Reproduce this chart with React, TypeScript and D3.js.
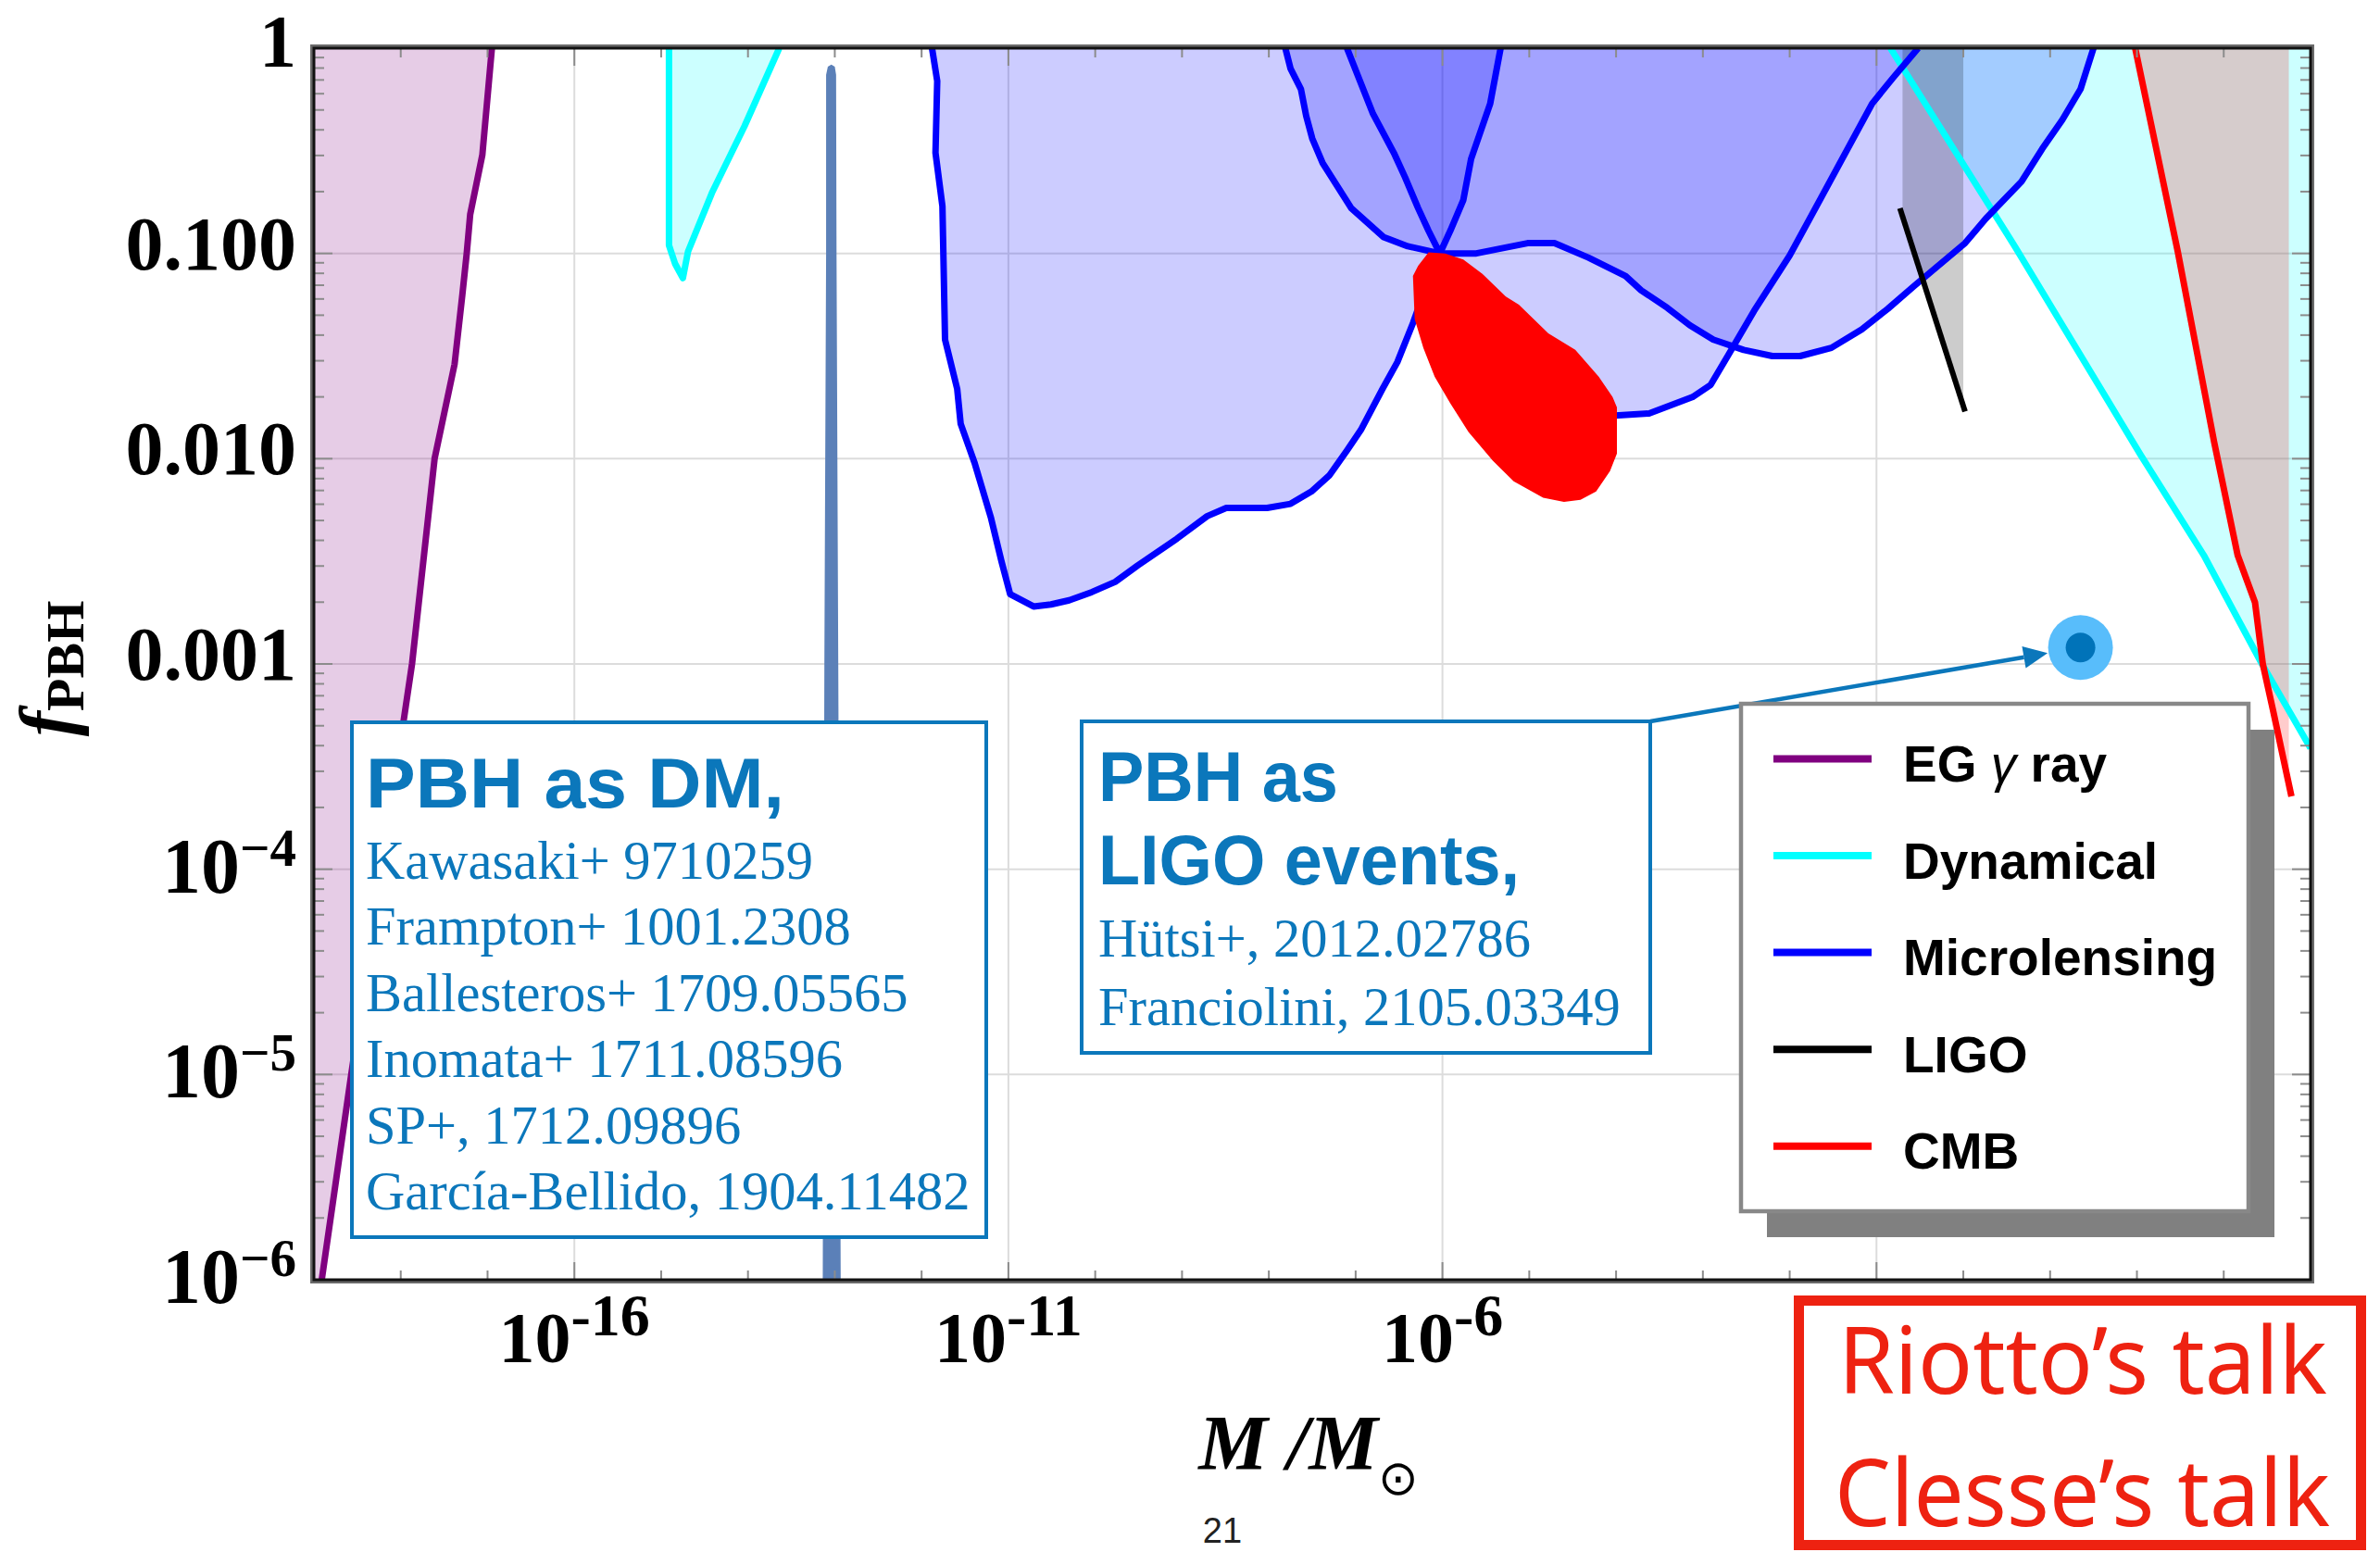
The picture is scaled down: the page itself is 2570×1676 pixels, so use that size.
import React from "react";
import * as d3 from "d3";

type P = [number, number]; // [log10 M/Msun, log10 f_PBH]

// ---- axes (log10 units) ----
const X_DOMAIN: [number, number] = [-19, 4];
const Y_DOMAIN: [number, number] = [-6, 0];
const xGridDecades = [-16, -11, -6, -1];
const xLabelDecades = [-16, -11, -6];
const xTickLabels = ["10^-16", "10^-11", "10^-6"];
const yTickDecades = [0, -1, -2, -3, -4, -5, -6];
const yTickLabels = ["1", "0.100", "0.010", "0.001", "10^\u22124", "10^\u22125", "10^\u22126"];

// ---- constraint curves ----
const egGammaRay: P[] = [
  [-16.95, 0], [-17.06, -0.52], [-17.2, -0.81], [-17.24, -1.0], [-17.29, -1.2],
  [-17.38, -1.54], [-17.61, -2.0], [-17.87, -3.0], [-18.22, -4.0], [-18.57, -5.0], [-18.91, -6.0],
];

const dynamicalLow: P[] = [
  [-14.91, 0], [-14.91, -0.96], [-14.84, -1.05], [-14.75, -1.12], [-14.69, -0.99],
  [-14.41, -0.7], [-14.04, -0.38], [-13.64, 0],
];

const dynamicalHigh: P[] = [
  [-0.84, 0], [0.6, -0.97], [2.04, -1.98], [2.77, -2.47], [3.44, -3.0], [4.0, -3.41],
];

const microlensingA: P[] = [
  [-11.88, 0], [-11.82, -0.16], [-11.84, -0.51], [-11.76, -0.77], [-11.73, -1.42],
  [-11.59, -1.66], [-11.55, -1.83], [-11.39, -2.02], [-11.2, -2.29], [-11.08, -2.5],
  [-10.98, -2.66], [-10.71, -2.72], [-10.51, -2.71], [-10.3, -2.69], [-10.04, -2.65],
  [-9.77, -2.6], [-9.51, -2.52], [-9.06, -2.39], [-8.71, -2.28], [-8.49, -2.24],
  [-8.02, -2.24], [-7.75, -2.22], [-7.51, -2.16], [-7.3, -2.08], [-7.1, -1.96],
  [-6.94, -1.86], [-6.69, -1.66], [-6.52, -1.53], [-6.34, -1.34], [-6.18, -1.15],
  [-6.03, -1.0], [-5.5, -1.4], [-4.5, -1.72], [-4.01, -1.79], [-3.62, -1.78],
  [-3.12, -1.7], [-2.91, -1.64], [-2.7, -1.49], [-2.41, -1.28], [-2.0, -1.01],
  [-1.64, -0.73], [-1.05, -0.27], [-0.81, -0.145], [-0.52, 0],
];

const microlensingB: P[] = [
  [-7.81, 0], [-7.75, -0.1], [-7.63, -0.2], [-7.57, -0.33], [-7.5, -0.44], [-7.38, -0.56],
  [-7.05, -0.78], [-6.68, -0.92], [-6.4, -0.965], [-6.03, -1.0], [-5.61, -1.0],
  [-5.02, -0.95], [-4.71, -0.95], [-4.32, -1.02], [-3.89, -1.11], [-3.71, -1.18],
  [-3.41, -1.265], [-3.15, -1.35], [-2.88, -1.42], [-2.53, -1.47], [-2.2, -1.5],
  [-1.88, -1.5], [-1.52, -1.46], [-1.17, -1.37], [-0.87, -1.27], [-0.57, -1.16],
  [0.02, -0.95], [0.26, -0.83], [0.67, -0.65], [0.91, -0.49], [1.14, -0.35],
  [1.35, -0.2], [1.5, 0],
];

const microlensingC: P[] = [
  [-7.1, 0], [-6.95, -0.16], [-6.8, -0.32], [-6.56, -0.51], [-6.43, -0.63], [-6.28, -0.78],
  [-6.16, -0.89], [-6.03, -1.0], [-5.91, -0.89], [-5.76, -0.74], [-5.67, -0.54],
  [-5.45, -0.27], [-5.33, 0],
];

const ligoBound: P[] = [[-0.73, -0.78], [0.02, -1.77]];
const ligoBand: P[] = [[-0.7, 0], [-0.7, -0.82], [0.0, -1.74], [0.0, 0]];

const cmbBound: P[] = [
  [1.98, 0], [2.47, -0.99], [2.89, -1.92], [3.16, -2.47], [3.36, -2.7], [3.45, -3.0],
  [3.57, -3.23], [3.78, -3.645],
];
const cmbFill: P[] = [
  [1.98, 0], [2.47, -0.99], [2.89, -1.92], [3.16, -2.47], [3.36, -2.7], [3.45, -3.0],
  [3.57, -3.23], [3.75, -3.585], [3.75, 0],
];

// ---- candidate regions ----
const candidateBlob: P[] = [
  [-6.16, -0.995], [-5.97, -1.0], [-5.76, -1.03], [-5.54, -1.1], [-5.27, -1.21],
  [-5.12, -1.25], [-4.78, -1.39], [-4.47, -1.47], [-4.2, -1.6], [-4.04, -1.7],
  [-3.99, -1.75], [-3.99, -1.975], [-4.07, -2.06], [-4.23, -2.16], [-4.41, -2.2],
  [-4.6, -2.21], [-4.84, -2.19], [-5.18, -2.11], [-5.42, -2.01], [-5.7, -1.87],
  [-5.91, -1.73], [-6.09, -1.6], [-6.22, -1.46], [-6.32, -1.32], [-6.34, -1.11],
  [-6.28, -1.06],
];

const narrowPeak: P[] = [
  [-13.14, -6.2], [-13.12, -3], [-13.1, -1], [-13.1, -0.13], [-13.08, -0.09],
  [-13.04, -0.08], [-13.0, -0.09], [-12.985, -0.13], [-12.98, -1], [-12.96, -3], [-12.93, -6.2],
];

const ligoEventPoint: P = [1.35, -2.92];

// ---- legend ----
const legendNames = ["EG \u03b3 ray", "Dynamical", "Microlensing", "LIGO", "CMB"];
const legendColors = ["#800080", "#00ffff", "#0000ff", "#000000", "#ff0000"];

// ---- annotations ----
const dmTitle = "PBH as DM,";
const dmRefs = [
  "Kawasaki+ 9710259",
  "Frampton+ 1001.2308",
  "Ballesteros+ 1709.05565",
  "Inomata+ 1711.08596",
  "SP+, 1712.09896",
  "Garc\u00eda-Bellido, 1904.11482",
];
const ligoTitle = ["PBH as", "LIGO events,"];
const ligoRefs = ["H\u00fctsi+, 2012.02786", "Franciolini, 2105.03349"];
const talkLines = ["Riotto\u2019s talk", "Clesse\u2019s talk"];

const COL = {
  purple: "#800080",
  cyan: "#00ffff",
  blue: "#0000ff",
  black: "#000000",
  red: "#ff0000",
  note: "#0b77bb",
  peak: "#5b80b8",
  talk: "#ee2211",
};

const SERIF = "'Liberation Serif', 'Times New Roman', serif";
const SANS = "'Liberation Sans', Arial, Helvetica, sans-serif";

export default function App() {
  const L = { left: 339, right: 2495, top: 52, bottom: 1382 };
  const x = d3.scaleLog().domain([10 ** X_DOMAIN[0], 10 ** X_DOMAIN[1]]).range([L.left, L.right]);
  const y = d3.scaleLog().domain([10 ** Y_DOMAIN[0], 10 ** Y_DOMAIN[1]]).range([L.bottom, L.top]);
  const X = (e: number) => x(Math.pow(10, e));
  const Y = (e: number) => y(Math.pow(10, e));
  const line = d3.line<P>().x((d) => X(d[0])).y((d) => Y(d[1]));
  const area = (pts: P[]) => (line(pts) || "") + "Z";

  const xTicks = d3.range(X_DOMAIN[0], X_DOMAIN[1] + 1);
  const yTicks: { v: number; major: boolean }[] = [];
  for (let e = Y_DOMAIN[0]; e < Y_DOMAIN[1]; e++) {
    for (let k = 1; k <= 9; k++) yTicks.push({ v: e + Math.log10(k), major: k === 1 });
  }
  yTicks.push({ v: 0, major: true });

  const lw = 7;
  const fillOp = 0.2;

  // arrow from the LIGO-events box to the event point
  const ligoBox = { x: 1168, y: 779, w: 614, h: 358 };
  const dmBox = { x: 380, y: 780, w: 685, h: 556 };
  const dotC = [X(ligoEventPoint[0]), Y(ligoEventPoint[1])];
  const dotR = 35;
  const aStart = [ligoBox.x + ligoBox.w, ligoBox.y];
  const adx = dotC[0] - aStart[0];
  const ady = dotC[1] - aStart[1];
  const alen = Math.hypot(adx, ady);
  const ux = adx / alen, uy = ady / alen;
  const tip = [dotC[0] - (dotR + 1) * ux, dotC[1] - (dotR + 1) * uy];
  const headL = 26, headW = 12;
  const base = [tip[0] - headL * ux, tip[1] - headL * uy];
  const head = [
    tip,
    [base[0] - headW * uy, base[1] + headW * ux],
    [base[0] + headW * uy, base[1] - headW * ux],
  ];

  const legend = { x: 1880, y: 760, w: 548, h: 548, shadow: 28 };

  return (
    <svg
      width={2570}
      height={1676}
      style={{ position: "absolute", left: 0, top: 0, display: "block" }}
      xmlns="http://www.w3.org/2000/svg"
    >
      <rect x={0} y={0} width={2570} height={1676} fill="#ffffff" />
      <defs>
        <clipPath id="plotClip">
          <rect x={L.left} y={L.top} width={L.right - L.left} height={L.bottom - L.top} />
        </clipPath>
      </defs>

      {/* grid */}
      <g stroke="#dcdcdc" strokeWidth={2}>
        {xGridDecades.map((e) => (
          <line key={"gx" + e} x1={X(e)} x2={X(e)} y1={L.top} y2={L.bottom} />
        ))}
        {yTickDecades.slice(1, -1).map((e) => (
          <line key={"gy" + e} x1={L.left} x2={L.right} y1={Y(e)} y2={Y(e)} />
        ))}
      </g>

      <g clipPath="url(#plotClip)">
        {/* shaded exclusion regions */}
        <path d={area([...egGammaRay, [-19, -6], [-19, 0]])} fill={COL.purple} fillOpacity={fillOp} />
        <path d={area(dynamicalLow)} fill={COL.cyan} fillOpacity={fillOp} />
        <path d={area([...dynamicalHigh, [4, 0]])} fill={COL.cyan} fillOpacity={fillOp} />
        <path d={area(microlensingA)} fill={COL.blue} fillOpacity={fillOp} />
        <path d={area(microlensingB)} fill={COL.blue} fillOpacity={fillOp} />
        <path d={area(microlensingC)} fill={COL.blue} fillOpacity={fillOp} />
        <path d={area(ligoBand)} fill={COL.black} fillOpacity={fillOp} />
        <path d={area(cmbFill)} fill={COL.red} fillOpacity={fillOp} />

        {/* boundaries */}
        <g fill="none" strokeWidth={lw} strokeLinejoin="round">
          <path d={line(egGammaRay) || ""} stroke={COL.purple} />
          <path d={line(dynamicalLow) || ""} stroke={COL.cyan} />
          <path d={line(dynamicalHigh) || ""} stroke={COL.cyan} />
          <path d={line(microlensingA) || ""} stroke={COL.blue} />
          <path d={line(microlensingB) || ""} stroke={COL.blue} />
          <path d={line(microlensingC) || ""} stroke={COL.blue} />
          <path d={line(ligoBound) || ""} stroke={COL.black} strokeWidth={6} />
          <path d={line(cmbBound) || ""} stroke={COL.red} />
        </g>

        {/* candidate region and narrow mass function */}
        <path d={area(candidateBlob)} fill={COL.red} />
        <path d={area(narrowPeak)} fill={COL.peak} />
      </g>

      {/* ticks */}
      <g stroke="#8c8c8c" strokeWidth={2}>
        {xTicks.map((e) => {
          const major = (e + 16) % 5 === 0;
          const len = major ? 19 : 10;
          return (
            <g key={"xt" + e}>
              <line x1={X(e)} x2={X(e)} y1={L.bottom} y2={L.bottom - len} />
              <line x1={X(e)} x2={X(e)} y1={L.top} y2={L.top + len} />
            </g>
          );
        })}
        {yTicks.map((t, i) => {
          const len = t.major ? 20 : 11;
          return (
            <g key={"yt" + i}>
              <line x1={L.left} x2={L.left + len} y1={Y(t.v)} y2={Y(t.v)} />
              <line x1={L.right} x2={L.right - len} y1={Y(t.v)} y2={Y(t.v)} />
            </g>
          );
        })}
      </g>

      {/* frame */}
      <rect x={L.left - 1.5} y={L.top - 1.5} width={L.right - L.left + 3} height={L.bottom - L.top + 3}
        fill="none" stroke="#6a6a6a" strokeWidth={5} />
      <rect x={L.left} y={L.top} width={L.right - L.left} height={L.bottom - L.top}
        fill="none" stroke="#111111" strokeWidth={3} />

      {/* y tick labels */}
      <g fontFamily={SERIF} fontWeight="bold" fill="#000" textAnchor="end">
        {yTickDecades.map((e, i) => {
          const lab = yTickLabels[i];
          if (lab.includes("^")) {
            const [b, s] = lab.split("^");
            return (
              <text key={"yl" + e} x={320} y={Y(e) + 25} fontSize={84}>
                {b}
                <tspan fontSize={57} dy={-29}>{s}</tspan>
              </text>
            );
          }
          return (
            <text key={"yl" + e} x={320} y={Y(e) + (e === 0 ? 20 : 17)} fontSize={e === 0 ? 80 : 82}>
              {lab}
            </text>
          );
        })}
      </g>

      {/* x tick labels */}
      <g fontFamily={SERIF} fontWeight="bold" fill="#000" textAnchor="middle">
        {xLabelDecades.map((e, i) => {
          const [b, s] = xTickLabels[i].split("^");
          return (
            <text key={"xl" + e} x={X(e)} y={1471} fontSize={78}>
              {b}
              <tspan fontSize={64} dy={-29}>{s}</tspan>
            </text>
          );
        })}
      </g>

      {/* axis titles */}
      <text x={1413} y={1587} fontFamily={SERIF} fontWeight="bold" fontStyle="italic" fontSize={84}
        textAnchor="middle" fill="#000">
        M /M
        <tspan fontStyle="normal" fontWeight="normal" fontSize={52} dy={27} fontFamily="'DejaVu Sans', sans-serif">{"\u2299"}</tspan>
      </text>
      <text transform="translate(78,722) rotate(-90)" fontFamily={SERIF} fontWeight="bold"
        textAnchor="middle" fill="#000">
        <tspan fontStyle="italic" fontSize={82}>f</tspan>
        <tspan fontSize={58} dy={12}>PBH</tspan>
      </text>

      {/* event point and arrow */}
      <circle cx={dotC[0]} cy={dotC[1]} r={dotR} fill="#58bdfb" />
      <circle cx={dotC[0]} cy={dotC[1]} r={16} fill="#0073b9" />
      <line x1={aStart[0]} y1={aStart[1]} x2={base[0]} y2={base[1]} stroke={COL.note} strokeWidth={4.5} />
      <polygon points={head.map((p) => p.join(",")).join(" ")} fill={COL.note} />

      {/* PBH as DM box */}
      <rect x={dmBox.x} y={dmBox.y} width={dmBox.w} height={dmBox.h} fill="#ffffff" stroke={COL.note} strokeWidth={4} />
      <text x={395} y={872} fontFamily={SANS} fontWeight="bold" fontSize={76} fill={COL.note}
        textLength={452} lengthAdjust="spacingAndGlyphs">{dmTitle}</text>
      {dmRefs.map((r, i) => (
        <text key={r} x={395} y={948.7 + 71.5 * i} fontFamily={SERIF} fontSize={58.5} fill={COL.note}>{r}</text>
      ))}

      {/* PBH as LIGO events box */}
      <rect x={ligoBox.x} y={ligoBox.y} width={ligoBox.w} height={ligoBox.h} fill="#ffffff" stroke={COL.note} strokeWidth={4} />
      <text x={1186} y={865} fontFamily={SANS} fontWeight="bold" fontSize={76} fill={COL.note}
        textLength={259} lengthAdjust="spacingAndGlyphs">{ligoTitle[0]}</text>
      <text x={1186} y={955} fontFamily={SANS} fontWeight="bold" fontSize={76} fill={COL.note}
        textLength={455} lengthAdjust="spacingAndGlyphs">{ligoTitle[1]}</text>
      {ligoRefs.map((r, i) => (
        <text key={r} x={1186} y={1033 + 74 * i} fontFamily={SERIF} fontSize={58.5} fill={COL.note}>{r}</text>
      ))}

      {/* legend */}
      <rect x={legend.x + legend.shadow} y={legend.y + legend.shadow} width={legend.w} height={legend.h} fill="#808080" />
      <rect x={legend.x} y={legend.y} width={legend.w} height={legend.h} fill="#ffffff" stroke="#888888" strokeWidth={4.5} />
      {legendNames.map((n, i) => {
        const ly = 819.4 + 104.6 * i;
        const parts = n.split("\u03b3");
        return (
          <g key={n}>
            <line x1={1915} x2={2021} y1={ly} y2={ly} stroke={legendColors[i]} strokeWidth={8} />
            <text x={2055} y={ly + 24.5} fontFamily={SANS} fontWeight="bold" fontSize={55} fill="#000">
              {parts.length > 1 ? (
                <>
                  {parts[0]}
                  <tspan fontStyle="italic" fontWeight="normal">{"\u03b3"}</tspan>
                  {parts[1]}
                </>
              ) : (
                n
              )}
            </text>
          </g>
        );
      })}

      {/* talk references */}
      <rect x={1942.5} y={1404.5} width={607} height={264} fill="#ffffff" stroke={COL.talk} strokeWidth={11} />
      <text x={1985} y={1505} fontFamily="'Noto Sans', sans-serif" fontSize={100} fill={COL.talk}
        textLength={528} lengthAdjust="spacingAndGlyphs">{talkLines[0]}</text>
      <text x={1981} y={1648} fontFamily="'Noto Sans', sans-serif" fontSize={100} fill={COL.talk}
        textLength={535} lengthAdjust="spacingAndGlyphs">{talkLines[1]}</text>

      {/* slide number */}
      <text x={1320} y={1666} fontFamily={SANS} fontSize={38} fill="#222" textAnchor="middle">21</text>
    </svg>
  );
}
